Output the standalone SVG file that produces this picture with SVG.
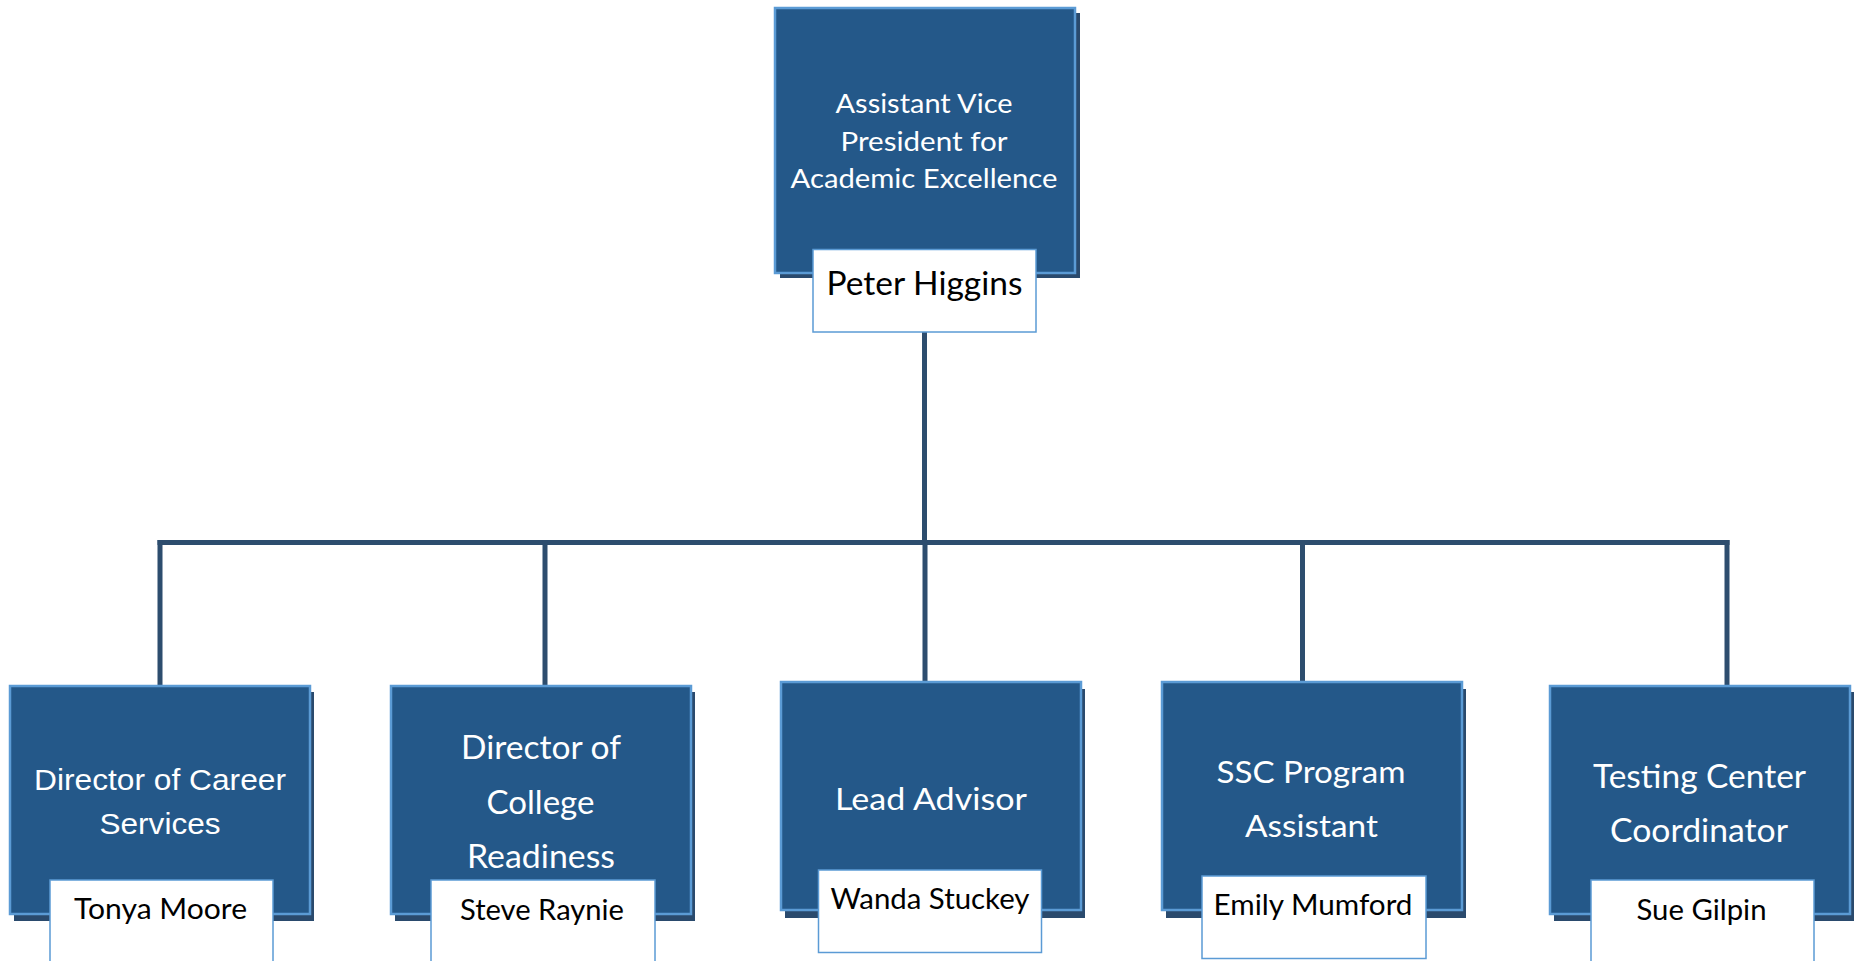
<svg xmlns="http://www.w3.org/2000/svg" width="1860" height="961" viewBox="0 0 1860 961">
<style>
.shadow{fill:#2a4a6d;}
.box{fill:#245889;stroke:#5b9bd5;stroke-width:2.5;}
.name{fill:#ffffff;stroke:#5b9bd5;stroke-width:1.5;}
.t{font-family:Lato,"Open Sans","Noto Sans",sans-serif;fill:#ffffff;text-anchor:middle;}
.ta{font-family:"Liberation Sans",Arial,sans-serif;fill:#ffffff;text-anchor:middle;}
.n{font-family:Lato,"Open Sans","Noto Sans",sans-serif;fill:#000000;text-anchor:middle;}
.conn{fill:none;stroke:#2d4d6e;stroke-width:5;stroke-linecap:square;stroke-linejoin:miter;}
</style>
<rect width="1860" height="961" fill="#ffffff"/>
<g id="connectors">
<path class="conn" d="M924.5 334 V542.5"/>
<path class="conn" d="M160 542.5 H1727"/>
<path class="conn" d="M160 542.5 V684"/>
<path class="conn" d="M545 542.5 V684"/>
<path class="conn" d="M925 542.5 V680"/>
<path class="conn" d="M1302.5 542.5 V680"/>
<path class="conn" d="M1727 542.5 V684"/>
</g>
<g id="node-avp">
<rect class="shadow" x="780" y="13" width="300" height="265"/>
<rect class="box" x="775" y="8" width="300" height="265"/>
<text class="t" font-size="26.5" x="924" y="113" textLength="177" lengthAdjust="spacingAndGlyphs">Assistant Vice</text>
<text class="t" font-size="26.5" x="924" y="150.5" textLength="167" lengthAdjust="spacingAndGlyphs">President for</text>
<text class="t" font-size="26.5" x="924" y="187.5" textLength="267" lengthAdjust="spacingAndGlyphs">Academic Excellence</text>
<rect class="name" x="813" y="249.5" width="223" height="82.5"/>
<text class="n" font-size="33" x="924.5" y="294.5" textLength="196" lengthAdjust="spacingAndGlyphs">Peter Higgins</text>
</g>
<g id="node-career">
<rect class="shadow" x="14" y="692" width="300" height="229"/>
<rect class="box" x="10" y="686" width="300" height="228"/>
<text class="ta" font-size="30" x="160" y="789.5" textLength="252" lengthAdjust="spacingAndGlyphs">Director of Career</text>
<text class="ta" font-size="30" x="160" y="833.5" textLength="121" lengthAdjust="spacingAndGlyphs">Services</text>
<rect class="name" x="50" y="880" width="223" height="100"/>
<text class="n" font-size="28" x="160.5" y="918.5" textLength="173" lengthAdjust="spacingAndGlyphs">Tonya Moore</text>
</g>
<g id="node-college">
<rect class="shadow" x="395" y="692" width="300" height="229"/>
<rect class="box" x="391" y="686" width="300" height="228"/>
<text class="t" font-size="32" x="541" y="759" textLength="160" lengthAdjust="spacingAndGlyphs">Director of</text>
<text class="t" font-size="32" x="540.5" y="814" textLength="108" lengthAdjust="spacingAndGlyphs">College</text>
<text class="t" font-size="32" x="541" y="867.5" textLength="148" lengthAdjust="spacingAndGlyphs">Readiness</text>
<rect class="name" x="431" y="880" width="224" height="100"/>
<text class="n" font-size="29" x="542" y="919.5" textLength="164" lengthAdjust="spacingAndGlyphs">Steve Raynie</text>
</g>
<g id="node-lead">
<rect class="shadow" x="785" y="689" width="300" height="229"/>
<rect class="box" x="781" y="682" width="300" height="228"/>
<text class="t" font-size="31" x="931" y="810" textLength="192" lengthAdjust="spacingAndGlyphs">Lead Advisor</text>
<rect class="name" x="818.5" y="870" width="223" height="82.5"/>
<text class="n" font-size="28" x="930" y="908.5" textLength="199" lengthAdjust="spacingAndGlyphs">Wanda Stuckey</text>
</g>
<g id="node-ssc">
<rect class="shadow" x="1166" y="689" width="300" height="229"/>
<rect class="box" x="1162" y="682" width="300" height="228"/>
<text class="t" font-size="31" x="1311" y="783" textLength="189" lengthAdjust="spacingAndGlyphs">SSC Program</text>
<text class="t" font-size="31" x="1311.5" y="837" textLength="133" lengthAdjust="spacingAndGlyphs">Assistant</text>
<rect class="name" x="1202" y="876" width="224" height="82.5"/>
<text class="n" font-size="28" x="1313" y="915" textLength="199" lengthAdjust="spacingAndGlyphs">Emily Mumford</text>
</g>
<g id="node-testing">
<rect class="shadow" x="1554" y="692" width="300" height="229"/>
<rect class="box" x="1550" y="686" width="300" height="228"/>
<text class="t" font-size="32" x="1699.5" y="787.5" textLength="213" lengthAdjust="spacingAndGlyphs">Testing Center</text>
<text class="t" font-size="32" x="1699" y="842" textLength="178" lengthAdjust="spacingAndGlyphs">Coordinator</text>
<rect class="name" x="1591" y="880" width="223" height="100"/>
<text class="n" font-size="29" x="1701.5" y="919.5" textLength="130" lengthAdjust="spacingAndGlyphs">Sue Gilpin</text>
</g>
</svg>
